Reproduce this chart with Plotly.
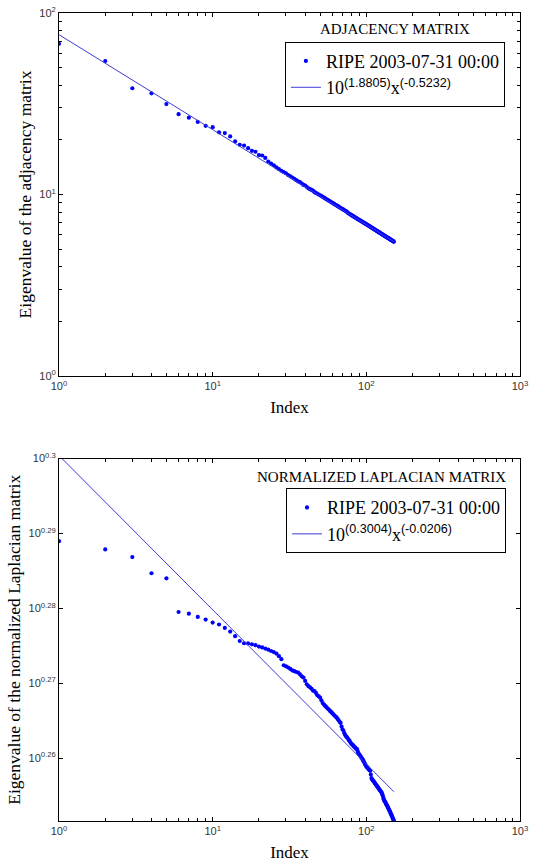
import plotly.graph_objects as go

# ---------------- data ----------------
index = list(range(1, 152))

adjacency_eigs = [
    67.7, 54.4, 38.5, 36.1, 31.5, 27.7, 26.5, 25.1, 23.9, 23.5,
    22.0, 21.8, 20.9, 19.6, 18.8, 18.6, 18.0, 17.4, 17.2, 16.5,
    16.4, 15.9, 15.2, 14.8, 14.5, 14.1, 13.8, 13.5, 13.3, 13.1,
    12.8, 12.6, 12.4, 12.2, 12.0, 11.8, 11.7, 11.5, 11.3, 11.2,
    11.0, 10.8, 10.7, 10.6, 10.5, 10.3, 10.2, 10.1, 10.0, 9.91,
    9.81, 9.71, 9.62, 9.52, 9.42, 9.34, 9.25, 9.17, 9.09, 9.01,
    8.93, 8.85, 8.78, 8.71, 8.64, 8.57, 8.50, 8.43, 8.37, 8.31,
    8.25, 8.19, 8.13, 8.07, 8.01, 7.92, 7.86, 7.80, 7.75, 7.70,
    7.65, 7.60, 7.55, 7.50, 7.46, 7.41, 7.37, 7.32, 7.28, 7.24,
    7.20, 7.16, 7.12, 7.08, 7.04, 7.00, 6.96, 6.93, 6.89, 6.86,
    6.82, 6.79, 6.75, 6.72, 6.68, 6.65, 6.62, 6.58, 6.55, 6.52,
    6.48, 6.45, 6.42, 6.39, 6.36, 6.33, 6.30, 6.27, 6.24, 6.22,
    6.19, 6.16, 6.14, 6.11, 6.08, 6.06, 6.03, 6.01, 5.98, 5.96,
    5.93, 5.91, 5.89, 5.86, 5.84, 5.82, 5.79, 5.77, 5.75, 5.73,
    5.71, 5.68, 5.66, 5.64, 5.62, 5.60, 5.58, 5.56, 5.54, 5.52,
    5.49,
]

laplacian_eigs = [
    1.9452, 1.9403, 1.9357, 1.9261, 1.9231, 1.9033, 1.9023, 1.9004, 1.8989, 1.8971,
    1.8960, 1.8940, 1.8919, 1.8892, 1.8864, 1.8851, 1.8850, 1.8845, 1.8840, 1.8832,
    1.8827, 1.8820, 1.8814, 1.8806, 1.8800, 1.8791, 1.8776, 1.8759, 1.8724, 1.8718,
    1.8711, 1.8703, 1.8694, 1.8690, 1.8685, 1.8682, 1.8672, 1.8660, 1.8653, 1.8634,
    1.8615, 1.8604, 1.8597, 1.8589, 1.8578, 1.8576, 1.8565, 1.8552, 1.8546, 1.8539,
    1.8523, 1.8508, 1.8499, 1.8491, 1.8484, 1.8476, 1.8471, 1.8463, 1.8457, 1.8450,
    1.8444, 1.8437, 1.8431, 1.8426, 1.8418, 1.8410, 1.8401, 1.8395, 1.8374, 1.8359,
    1.8350, 1.8336, 1.8325, 1.8317, 1.8313, 1.8305, 1.8298, 1.8292, 1.8283, 1.8277,
    1.8273, 1.8268, 1.8263, 1.8258, 1.8254, 1.8249, 1.8247, 1.8233, 1.8224, 1.8217,
    1.8212, 1.8205, 1.8199, 1.8193, 1.8187, 1.8180, 1.8172, 1.8164, 1.8157, 1.8151,
    1.8146, 1.8142, 1.8138, 1.8133, 1.8129, 1.8126, 1.8105, 1.8086, 1.8079, 1.8074,
    1.8069, 1.8066, 1.8061, 1.8056, 1.8051, 1.8047, 1.8043, 1.8038, 1.8034, 1.8029,
    1.8025, 1.8020, 1.8016, 1.8012, 1.8008, 1.8003, 1.7995, 1.7987, 1.7976, 1.7968,
    1.7960, 1.7956, 1.7951, 1.7945, 1.7940, 1.7935, 1.7930, 1.7925, 1.7919, 1.7914,
    1.7908, 1.7903, 1.7898, 1.7891, 1.7885, 1.7879, 1.7873, 1.7867, 1.7861, 1.7856,
    1.7850,
]

series_label = "RIPE 2003-07-31 00:00"
adj_fit_logc, adj_fit_exp = 1.8805, -0.5232
lap_fit_logc, lap_fit_exp = 0.3004, -0.0206
adj_title = "ADJACENCY MATRIX"
lap_title = "NORMALIZED LAPLACIAN MATRIX"

x_decades = [0, 1, 2, 3]
y1_decades = [0, 1, 2]
y2_exponents = ["0.26", "0.27", "0.28", "0.29", "0.3"]

# ---------------- helpers ----------------
SERIF = "Liberation Serif, Times New Roman, serif"
SANS = "Liberation Sans, Arial, sans-serif"
BLUE = "rgb(0,0,255)"
FITC = "rgb(60,60,215)"


def major_minor(decades):
    major, text, minor = [], [], []
    for d in decades:
        base = 10 ** d
        major.append(base)
        text.append("10<sup>%d</sup>" % d)
        if d != decades[-1]:
            minor.extend(m * base for m in range(2, 10))
    return major, text, minor


x_major, x_text, x_minor = major_minor(x_decades)
y1_major, y1_text, y1_minor = major_minor(y1_decades)
y2_major = [10 ** float(e) for e in y2_exponents]
y2_text = ["10<sup>%s</sup>" % e for e in y2_exponents]

SUP = '<sup><span style="font-family:Liberation Sans, Arial, sans-serif">%s</span></sup>'


def fit_label(c, e):
    return "10" + SUP % ("(%.4f)" % c) + "x" + SUP % ("(%.4f)" % e)


fit_x = [index[0], index[-1]]
adj_fit_y = [10 ** adj_fit_logc * x ** adj_fit_exp for x in fit_x]
lap_fit_y = [10 ** lap_fit_logc * x ** lap_fit_exp for x in fit_x]

fig = go.Figure()
fig.add_trace(go.Scatter(x=index, y=adjacency_eigs, mode="markers", name=series_label,
                         marker=dict(color=BLUE, size=4.2, symbol="circle"),
                         xaxis="x", yaxis="y", legend="legend"))
fig.add_trace(go.Scatter(x=fit_x, y=adj_fit_y, mode="lines",
                         name=fit_label(adj_fit_logc, adj_fit_exp),
                         line=dict(color=FITC, width=1),
                         xaxis="x", yaxis="y", legend="legend"))
fig.add_trace(go.Scatter(x=index, y=laplacian_eigs, mode="markers", name=series_label,
                         marker=dict(color=BLUE, size=4.2, symbol="circle"),
                         xaxis="x2", yaxis="y2", legend="legend2"))
fig.add_trace(go.Scatter(x=fit_x, y=lap_fit_y, mode="lines",
                         name=fit_label(lap_fit_logc, lap_fit_exp),
                         line=dict(color=FITC, width=1),
                         xaxis="x2", yaxis="y2", legend="legend2"))

axis_common = dict(type="log", showline=True, linecolor="black", linewidth=1,
                   mirror="allticks", ticks="inside", ticklen=4, tickcolor="black",
                   showgrid=False, zeroline=False, automargin=False,
                   ticklabeloverflow="allow",
                   tickfont=dict(family=SANS, size=11, color="#333"))

xaxis_common = dict(axis_common, range=[0, 3], tickmode="array",
                    tickvals=x_major, ticktext=x_text,
                    minor=dict(tickmode="array", tickvals=x_minor, ticks="inside",
                               ticklen=3, tickcolor="black", showgrid=False),
                    title=dict(text="Index", font=dict(family=SERIF, size=17, color="black"),
                               standoff=9))

legend_common = dict(bordercolor="black", borderwidth=1, bgcolor="white",
                     font=dict(family=SERIF, size=18, color="black"),
                     xanchor="left", yanchor="top", tracegroupgap=0)

fig.update_layout(
    template="none",
    width=538, height=866,
    margin=dict(l=59, r=18, t=13, b=45),
    paper_bgcolor="white", plot_bgcolor="white",
    xaxis=dict(xaxis_common, domain=[0, 1], anchor="y"),
    yaxis=dict(axis_common, domain=[0.5507, 1], anchor="x", range=[0, 2],
               tickmode="array", tickvals=y1_major, ticktext=y1_text,
               minor=dict(tickmode="array", tickvals=y1_minor, ticks="inside",
                          ticklen=3, tickcolor="black", showgrid=False),
               title=dict(text="Eigenvalue of the adjacency matrix",
                          font=dict(family=SERIF, size=17.5, color="black"), standoff=3)),
    xaxis2=dict(xaxis_common, domain=[0, 1], anchor="y2"),
    yaxis2=dict(axis_common, domain=[0, 0.4486], anchor="x2", range=[0.2516, 0.3],
                tickmode="array", tickvals=y2_major, ticktext=y2_text,
                title=dict(text="Eigenvalue of the normalized Laplacian matrix",
                           font=dict(family=SERIF, size=17.5, color="black"), standoff=3)),
    legend=dict(legend_common, x=0.490, y=0.9645),
    legend2=dict(legend_common, x=0.4924, y=0.4118),
    annotations=[
        dict(text=adj_title, xref="paper", yref="paper", x=0.7289, y=0.9798,
             showarrow=False, font=dict(family=SERIF, size=15, color="black"),
             xanchor="center", yanchor="middle"),
        dict(text=lap_title, xref="paper", yref="paper", x=0.6985, y=0.4261,
             showarrow=False, font=dict(family=SERIF, size=15, color="black"),
             xanchor="center", yanchor="middle"),
    ],
)

fig.write_html("out.html", config={"displayModeBar": False},
               post_script="document.body.style.margin='0';document.body.style.overflow='hidden';")
